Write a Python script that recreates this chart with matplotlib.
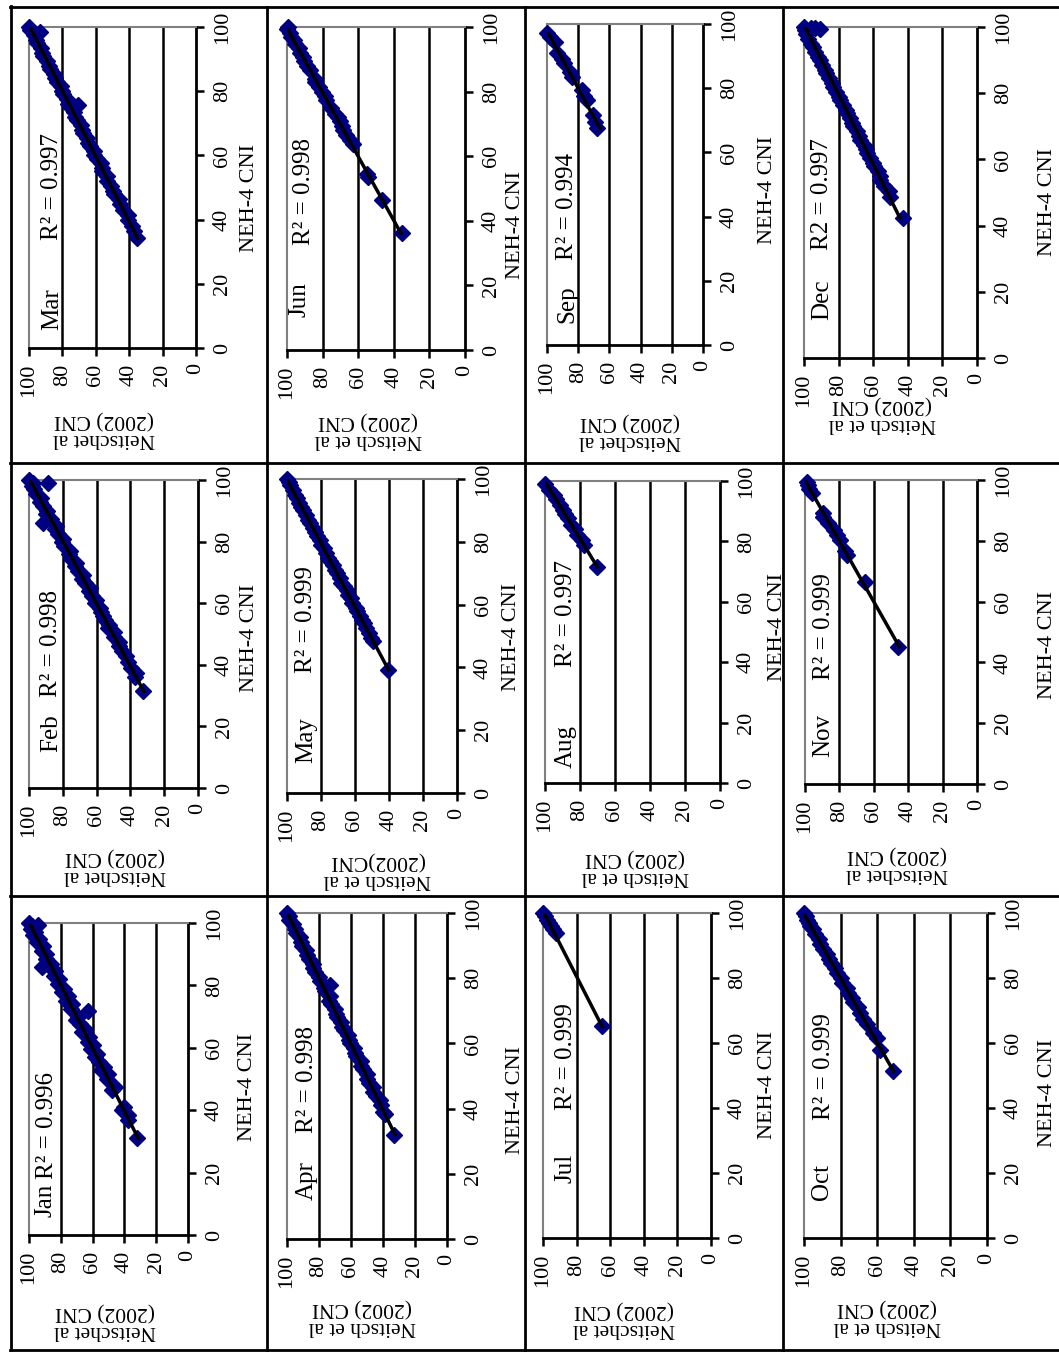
import numpy as np
import matplotlib
matplotlib.use('Agg')
import matplotlib.pyplot as plt
from matplotlib.lines import Line2D

plt.rcParams['font.family'] = ['Liberation Serif', 'DejaVu Serif']

W, H = 1059, 1352

months = ['Jan', 'Feb', 'Mar', 'Apr', 'May', 'Jun',
          'Jul', 'Aug', 'Sep', 'Oct', 'Nov', 'Dec']
r2_labels = ['R\u00b2 = 0.996', 'R\u00b2 = 0.998', 'R\u00b2 = 0.997',
             'R\u00b2 = 0.998', 'R\u00b2 = 0.999', 'R\u00b2 = 0.998',
             'R\u00b2 = 0.999', 'R\u00b2 = 0.997', 'R\u00b2 = 0.994',
             'R\u00b2 = 0.999', 'R\u00b2 = 0.999', 'R2 = 0.997']
ylabels = ['Neitschet al\n(2002) CNI', 'Neitschet al\n(2002) CNI', 'Neitschet al\n(2002) CNI',
           'Neitsch et al\n(2002) CNI', 'Neitsch et al\n(2002)CNI', 'Neitsch et al\n(2002) CNI',
           'Neitschet al\n(2002) CNI', 'Neitsch et al\n(2002) CNI', 'Neitschet al\n(2002) CNI',
           'Neitsch et al\n(2002) CNI', 'Neitschet al\n(2002) CNI', 'Neitsch et al\n(2002) CNI']
xlabel = 'NEH-4 CNI'
ticks = [0, 20, 40, 60, 80, 100]

# NEH-4 CNI (x) and Neitsch et al (2002) CNI (y)
jan_neh = [31, 37, 38.5, 40, 41, 46.5, 47.5, 50, 51.5, 53, 54, 55.5, 57, 58, 59.5, 61, 62, 63.5, 65, 66, 67.5, 69, 70,
           71.7, 72.5, 74, 75, 76.5, 78, 79, 80.5, 82, 83, 84.5, 86, 86, 87, 88.5, 90, 91, 92.5, 94, 95, 96, 97, 98,
           99, 99.5, 100]
jan_nei = [32.2, 38, 37.5, 41.5, 40, 47.5, 46, 51, 50.5, 54.5, 53, 56, 58.5, 57, 61, 60, 63, 62.5, 66.5, 65, 68, 70.5,
           69, 62.9, 73.5, 73, 76.5, 75.5, 79, 78, 81.5, 81, 84, 83.5, 87, 92, 86, 89.5, 89, 92, 91.5, 95, 94, 97.5,
           96, 99, 98, 94.3, 100]

feb_neh = [31.4, 36, 37.5, 39, 41, 43, 44.5, 46, 47.5, 49, 50.5, 52, 53, 54.5, 56, 57, 58.5, 60, 61, 62.5, 64, 65,
           66.5, 68, 69, 70.5, 72, 73, 74.5, 76, 77, 78.5, 80, 81, 82.5, 84, 85, 86, 87.5, 89, 90, 91.5, 93, 94, 95.5,
           97, 98, 98.9, 99, 100]
feb_nei = [32.5, 37, 36.5, 39.5, 41.5, 42.5, 45, 46.5, 47, 50, 50, 53, 52.5, 55, 56.5, 57.5, 58, 61, 60.5, 63, 64.5,
           64, 67, 68.5, 68, 71, 72.5, 72, 75, 76.5, 76, 79, 80.5, 80, 83, 84.5, 84, 91.7, 87, 90, 89.5, 92, 93.5, 93,
           96, 97, 98.5, 88.8, 97.5, 100]

mar_neh = [34.2, 36.5, 38, 40, 41.5, 43, 45, 46.5, 48, 49, 50.5, 52, 53.5, 55, 56, 57.5, 59, 60, 61.5, 63, 64, 65.5,
           67, 68, 69.5, 71, 72, 73.5, 75, 75.6, 76, 77.5, 79, 80, 81.5, 83, 84, 85.5, 87, 88, 89.5, 91, 92, 93.5, 95,
           96, 97.5, 98.4, 99, 100]
mar_nei = [35.6, 37, 38.5, 41, 41, 44, 45.5, 46, 49, 49.5, 51, 53, 53, 56, 56.5, 57, 59.5, 61, 61, 63.5, 64.5, 65,
           67.5, 68.5, 69, 71.5, 72.5, 73, 75.5, 70.6, 76.5, 77, 79.5, 80.5, 81, 83.5, 84.5, 85, 87.5, 88, 89, 91.5,
           92.5, 93, 95.5, 96, 97, 93.6, 99.5, 100]

apr_neh = [32, 38.2, 39, 41, 42.5, 44, 45, 46.5, 48, 49, 50.5, 52, 53, 54.5, 56, 57, 58.5, 60, 61, 62.5, 64, 65, 66.5,
           68, 69, 70.5, 72, 73, 74.5, 76, 77, 78, 79, 80.5, 82, 83, 84.5, 86, 87, 88.5, 90, 91, 92.5, 94, 95, 96.5,
           98, 99, 100]
apr_nei = [33.3, 38.5, 40, 41.5, 42, 44.5, 46, 46, 48.5, 50, 50, 52.5, 53.5, 54, 57, 57.5, 58, 60.5, 61.5, 62, 64.5,
           65.5, 66, 68.5, 69.5, 70, 72.5, 73.5, 73, 76.5, 77, 72.9, 79.5, 80, 82.5, 83.5, 84, 86.5, 87.5, 88, 90.5,
           91, 92, 94.5, 95, 96, 98.5, 99, 100]

may_neh = [39.3, 48.3, 49.5, 51, 52.5, 54, 55, 56.5, 58, 59, 60.5, 62, 63, 64.5, 66, 67, 68.5, 70, 71, 72.5, 74, 75,
           76.5, 78, 79, 80.5, 82, 83, 84.5, 86, 87, 88.5, 90, 91, 92.5, 94, 95, 96.5, 98, 99, 100]
may_nei = [40.4, 49.2, 50.5, 51.5, 53.5, 54.5, 56, 57, 59, 59.5, 61.5, 62.5, 64, 65, 66.5, 68, 69, 70.5, 72, 73, 74.5,
           76, 77, 78.5, 80, 80.5, 82.5, 83.5, 85, 86.5, 87.5, 89, 90.5, 91.5, 93, 94, 95.5, 96.5, 98, 99, 100]

jun_neh = [36.1, 46.4, 53.6, 54.5, 63.9, 65, 66.5, 68, 69.5, 71, 72.2, 73, 75, 77.3, 78.5, 80, 81.5, 83, 84, 86.6, 88,
           89.5, 90.7, 92, 93.5, 94.8, 96, 97, 98, 99.5, 100]
jun_nei = [35.6, 46.9, 54.4, 55, 62.9, 64.5, 67, 68.5, 69, 70.5, 71.3, 73, 75.5, 77.9, 78.5, 80.5, 82, 84.4, 84, 87.2,
           89, 90.5, 91, 92.5, 93.5, 95.7, 96, 97.5, 98.5, 100, 99.5]

jul_neh = [65.1, 93.8, 95, 96, 97, 98, 99, 100]
jul_nei = [65.1, 92, 94, 95, 96.5, 97.5, 99, 100]

aug_neh = [71.6, 78.8, 80.4, 82, 84, 85.5, 87.6, 89, 90.5, 92, 94, 95.5, 97, 99.1]
aug_nei = [70.5, 78, 79, 81.5, 83, 85, 86.7, 88.5, 89.5, 91.4, 93.5, 95, 97.5, 100]

sep_neh = [67.5, 69.5, 71.7, 76.3, 77.5, 79.4, 83.5, 85, 87.7, 89, 90.9, 94.5, 96, 97.1]
sep_nei = [68.1, 69, 70.2, 74.5, 76.5, 77.7, 84, 85.5, 89.4, 90.5, 93.6, 94.7, 98, 100]

oct_neh = [51.3, 58, 61.5, 63, 66, 67.5, 69.2, 71, 72.5, 74, 75.5, 77, 78.5, 80, 81.5, 83, 84.5, 86, 87.5, 89, 90.5,
           92, 93.5, 95, 96, 97, 98, 99, 100]
oct_nei = [51.3, 58.5, 60, 62.5, 65.8, 67.5, 69.5, 70.5, 73, 74, 76, 76.5, 79, 80, 82, 83, 85, 86.5, 87.5, 89.5, 91,
           92, 94, 95, 96.5, 97, 98.5, 99, 100]

nov_neh = [45.2, 66.4, 75.4, 76.5, 80.3, 81.9, 83.5, 85.7, 87.9, 89, 95.6, 97, 98.5, 99.5]
nov_nei = [45.8, 65.2, 75.8, 76.5, 79.7, 81.6, 83, 86.5, 89.4, 89.5, 96.1, 97.5, 98, 99]

dec_neh = [42.2, 48.7, 50.5, 52, 53.8, 55, 56.5, 58, 59, 60.5, 62, 63, 64.5, 66, 67, 68.5, 70, 71, 72.5, 74, 75, 76.5,
           78, 79, 80.5, 82, 83, 84.5, 86, 87, 88.5, 90, 91, 92.5, 94, 95, 96.5, 98, 99, 100, 99.8, 99.6, 99.5]
dec_nei = [42.5, 50.2, 51, 53.5, 56, 56, 57.5, 59.5, 60, 62, 63.5, 64, 65.5, 67.5, 68, 69.5, 71.5, 72, 73.5, 75, 76,
           77.5, 79, 80, 81.5, 83, 84, 85.5, 87, 88, 89.5, 91, 92, 93.5, 95, 96, 97.5, 99, 99.5, 100, 96, 93.5, 91]

neh_all = [jan_neh, feb_neh, mar_neh, apr_neh, may_neh, jun_neh,
           jul_neh, aug_neh, sep_neh, oct_neh, nov_neh, dec_neh]
nei_all = [jan_nei, feb_nei, mar_nei, apr_nei, may_nei, jun_nei,
           jul_nei, aug_nei, sep_nei, oct_nei, nov_nei, dec_nei]

# page layout in pixels (the page is turned a quarter turn)
boxes = [(29, 923, 188, 1235), (29, 480, 198, 788), (29, 27, 196, 348),
         (287, 913, 447, 1239), (287, 479, 457, 793), (287, 27, 465, 350),
         (543, 913, 711, 1238), (545, 481, 720, 783), (547, 24, 703, 345),
         (804, 913, 987, 1238), (805, 480, 977, 784), (804, 27, 977, 358)]
xlab_at = [(248, 1087), (250, 638), (250, 198), (515, 1100), (512, 637), (515, 225),
           (768, 1085), (777, 627), (768, 190), (1047, 1093), (1047, 645), (1047, 202)]
ylab_at = [(105, 1321), (115, 866), (104, 429), (362, 1317), (377, 870), (368, 430),
           (624, 1319), (635, 867), (630, 431), (887, 1317), (897, 864), (882, 414)]
month_at = [(52, 1217), (57, 752), (58, 330), (313, 1200), (312, 763), (306, 317),
            (572, 1183), (572, 768), (573, 323), (828, 1200), (829, 757), (828, 320)]
r2_at = [(53, 1179), (57, 697), (58, 240), (313, 1133), (312, 673), (310, 245),
         (572, 1110), (572, 667), (573, 260), (830, 1120), (830, 680), (828, 250)]


def fx(px):
    return px / W


def fy(py):
    return 1 - py / H


fig = plt.figure(figsize=(W / 100, H / 100), dpi=100)

for i in range(12):
    l, t, r, b = boxes[i]
    ax = fig.add_axes([fx(l), fy(b), fx(r) - fx(l), fy(t) - fy(b)])
    neh = np.array(neh_all[i])
    nei = np.array(nei_all[i])
    # linear trend line as in the spreadsheet
    coef = np.polyfit(neh, nei, 1)
    xs = np.array([neh.min(), neh.max()])
    ax.plot(nei, neh, ls='none', marker='D', ms=8, color='#000080', clip_on=False, zorder=3)
    ax.plot(np.polyval(coef, xs), xs, color='black', lw=2.5, zorder=4)
    ax.set_xlim(100, 0)
    ax.set_ylim(0, 100)
    ax.set_xticks(ticks)
    ax.set_yticks(ticks)
    ax.yaxis.tick_right()
    ax.tick_params(axis='x', direction='out', length=6, width=1.8, pad=5, labelsize=16, labelrotation=90)
    ax.tick_params(axis='y', direction='out', length=6, width=1.8, pad=6, labelsize=16, labelrotation=90)
    for lab in ax.get_yticklabels():
        lab.set_va('center')
    ax.grid(axis='x', color='black', lw=1.8)
    gl = ax.get_xgridlines()
    gl[0].set_visible(False)
    gl[-1].set_visible(False)
    ax.spines['top'].set_color('#808080')
    ax.spines['left'].set_color('#808080')
    ax.spines['top'].set_linewidth(1.5)
    ax.spines['left'].set_linewidth(1.5)
    ax.spines['bottom'].set_linewidth(2)
    ax.spines['right'].set_linewidth(2)

    fig.text(fx(xlab_at[i][0]), fy(xlab_at[i][1]), xlabel, rotation=90,
             ha='center', va='center', fontsize=16)
    fig.text(fx(ylab_at[i][0]), fy(ylab_at[i][1]), ylabels[i], rotation=180,
             ha='center', va='center', multialignment='center', fontsize=15.5, linespacing=1.0)
    fig.text(fx(month_at[i][0]), fy(month_at[i][1]), months[i], rotation=90, rotation_mode='anchor',
             ha='left', va='baseline', fontsize=18)
    fig.text(fx(r2_at[i][0]), fy(r2_at[i][1]), r2_labels[i], rotation=90, rotation_mode='anchor',
             ha='left', va='baseline', fontsize=18)

# table rules around the panels
rules = [((11, 6), (11, 1350)), ((10, 7), (1059, 7)), ((10, 1350), (1059, 1350)),
         ((267, 7), (267, 1350)), ((525, 7), (525, 1350)), ((783, 7), (783, 1350)),
         ((10, 463), (1059, 463)), ((10, 896), (1059, 896))]
for (x0, y0), (x1, y1) in rules:
    fig.add_artist(Line2D([fx(x0), fx(x1)], [fy(y0), fy(y1)], transform=fig.transFigure,
                          color='black', lw=2))

fig.savefig('out.png', dpi=100)
